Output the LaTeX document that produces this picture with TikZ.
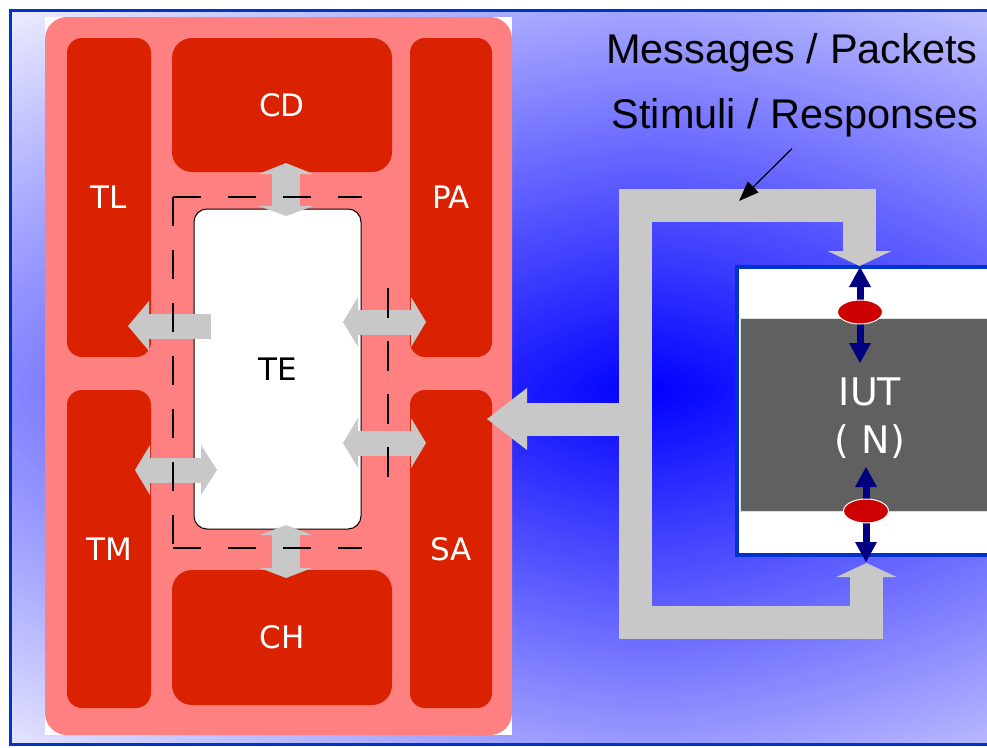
\documentclass[tikz,border=0pt]{standalone}
\usepackage{fontspec}
\setmainfont{DejaVu Sans}
\newfontfamily\ttlfont{Liberation Sans}
\usetikzlibrary{arrows.meta,calc,shapes.geometric}
\definecolor{boxred}{RGB}{218,34,0}
\definecolor{pinkbg}{RGB}{255,128,128}
\definecolor{pipegray}{RGB}{200,200,200}
\definecolor{framebl}{RGB}{0,51,204}
\definecolor{bglight}{RGB}{232,232,255}
\definecolor{coregray}{RGB}{96,96,96}
\definecolor{ellred}{RGB}{204,0,0}
\definecolor{navyblue}{RGB}{0,0,128}
\newcommand\labsize{\fontsize{31pt}{37pt}\selectfont}
\newcommand\iutsize{\fontsize{38pt}{46pt}\selectfont}
\newcommand\ttlsize{\ttlfont\fontsize{41.5pt}{50pt}\selectfont}
\begin{document}
\begin{tikzpicture}[x=1pt,y=-1pt,
  every node/.style={outer sep=0pt},
  unit/.style={fill=boxred, rounded corners=15pt, inner sep=0pt, text=white, font=\labsize},
  bigunit/.style={unit, rounded corners=20pt},
  pipe/.style={draw=pipegray, line width=33pt, line join=miter, line cap=butt},
  garrow/.style={draw=pipegray, line width=25pt, line cap=butt},
  vgarrow/.style={draw=pipegray, line width=28pt, line cap=butt},
  navyline/.style={draw=navyblue, line width=7pt, line cap=butt},
  dashline/.style={draw=black, line width=1.8pt},
  port/.style={ellipse, fill=ellred, draw=white, line width=1pt, minimum width=45pt, minimum height=24pt, inner sep=0pt},
  ttl/.style={font=\ttlsize, text=black, inner sep=0pt, anchor=base}
]
\useasboundingbox (0,0) rectangle (987,747);
\clip (0,0) rectangle (987,747);
\fill[white] (0,0) rectangle (987,747);
% background: superelliptic gradient
\begin{scope}
  \clip (10,10) rectangle (1010,744);
  \fill[bglight] (10,10) rectangle (1010,744);
  \foreach \i in {0,...,99}{
    \pgfmathsetmacro\s{1-\i/100}
    \pgfmathsetmacro\pc{100*\s}
    \fill[bglight!\pc!blue] plot[domain=0:360, samples=97, smooth cycle]
      ({650+1110*\s*cos(\x)*(abs(cos(\x))+0.00001)^(0.3333)},
       {390+540*\s*sin(\x)*(abs(sin(\x))+0.00001)^(0.3333)});
  }
\end{scope}
\draw[framebl, line width=3pt] (10,10) rectangle (1010,744);

% test system frame
\fill[white] (45,17) rectangle (512,735);
\fill[pinkbg, rounded corners=22pt] (45,17) rectangle (512,735);

% units
\node[unit, minimum width=84pt, minimum height=319pt] (TL) at (109,197.5) {TL};
\node[unit, minimum width=82pt, minimum height=319pt] (PA) at (451,197.5) {PA};
\node[unit, minimum width=84pt, minimum height=318pt] (TM) at (109,549) {TM};
\node[unit, minimum width=82pt, minimum height=318pt] (SA) at (451,549) {SA};
\node[bigunit, minimum width=220pt, minimum height=134pt] (CD) at (282,105) {CD};
\node[bigunit, minimum width=220pt, minimum height=135pt] (CH) at (282,637.5) {CH};
\node[draw=black, line width=1pt, fill=white, rounded corners=13pt, inner sep=0pt,
      minimum width=167pt, minimum height=320pt, font=\labsize, text=black] (TE) at (277.5,369) {TE};

% IUT
\node[draw=framebl, line width=4pt, fill=white, inner sep=0pt,
      minimum width=273pt, minimum height=288pt] (IUT) at (873.5,411) {};
\node[fill=coregray, draw=white!75!gray, line width=0.8pt, inner sep=0pt,
      minimum width=270pt, minimum height=193pt] (core) at (875,414.5) {};
\node[font=\iutsize, text=white, inner sep=0pt, anchor=base] (iutlbl) at (870,405) {IUT};
\node[font=\iutsize, text=white, inner sep=0pt, anchor=base] (nlbl) at (870,453) {( N)};

% labels top right
\node[ttl] (msg) at (792,63) {Messages / Packets};
\node[ttl] (stim) at (795,128) {Stimuli / Responses};

% big pipe
\coordinate (J) at (635,419);
\coordinate (SAin) at ($(SA.north east)+(-5,29)$);
\coordinate (topin) at ($(IUT.north)+(-14,-1)$);
\coordinate (botin) at ($(IUT.south)+(-7,8)$);
\draw[pipe, -{Triangle[width=64pt,length=15pt,line width=0pt]}] (J) -- (635,205.5) -| (topin);
\draw[pipe, -{Triangle[width=60pt,length=14pt,line width=0pt]}] (J) -- (635,622) -| (botin);
\draw[pipe, -{Triangle[width=62pt,length=40pt,line width=0pt]}] (J) -- (SAin);

% arrows around TE
\draw[vgarrow, {Triangle[width=55pt,length=11pt,line width=0pt]}-{Triangle[width=55pt,length=10pt,line width=0pt]}]
  ($(CD.south)+(4,-9)$) -- ($(TE.north)+(8.5,7)$);
\draw[vgarrow, {Triangle[width=52pt,length=10pt,line width=0pt]}-{Triangle[width=52pt,length=10pt,line width=0pt]}]
  ($(TE.south)+(8.5,-4)$) -- ($(CH.north)+(4,8)$);
\draw[garrow, -{Triangle[width=50pt,length=21pt,line width=0pt]}]
  ($(TE.west)+(17,-43)$) -- ($(TL.south east)+(-23,-31)$);
\draw[garrow, {Triangle[width=50pt,length=15pt,line width=0pt]}-{Triangle[width=50pt,length=16pt,line width=0pt]}]
  ($(TM.north east)+(-16,80)$) -- ($(TE.west)+(23,101)$);
\draw[garrow, {Triangle[width=50pt,length=15pt,line width=0pt]}-{Triangle[width=50pt,length=15pt,line width=0pt]}]
  ($(TE.east)+(-18,-47)$) -- ($(PA.south west)+(16,-35)$);
\draw[garrow, {Triangle[width=50pt,length=15pt,line width=0pt]}-{Triangle[width=50pt,length=15pt,line width=0pt]}]
  ($(TE.east)+(-18,74)$) -- ($(SA.north west)+(16,53)$);

% dashed boundary
\draw[dashline, dash pattern=on 28pt off 27pt] (173,197) -- (362,197);
\draw[dashline, dash pattern=on 29pt off 24pt] (173,197) -- (173,548);
\draw[dashline, dash pattern=on 28pt off 27pt] (173,548) -- (362,548);
\draw[dashline, dash pattern=on 30pt off 23pt] (388,288) -- (388,487);

% ports
\draw[navyline, {Triangle[width=22pt,length=20pt,line width=0pt]}-{Triangle[width=22pt,length=20pt,line width=0pt]}]
  ($(IUT.north)+(-13.5,0)$) -- ($(core.north)+(-15,45)$);
\draw[navyline, {Triangle[width=22pt,length=20pt,line width=0pt]}-{Triangle[width=22pt,length=20pt,line width=0pt]}]
  ($(core.south)+(-9,-44)$) -- ($(IUT.south)+(-7.5,7)$);
\node[port] (p1) at ($(core.north)+(-15,-6)$) {};
\node[port] (p2) at ($(core.south)+(-9,0)$) {};

% pointer
\coordinate (hit) at (739,201);
\draw[black, line width=1.2pt, -{Triangle[width=15pt,length=20pt]}] ($(stim.south)+(-3,12)$) -- (hit);
\end{tikzpicture}
\end{document}
